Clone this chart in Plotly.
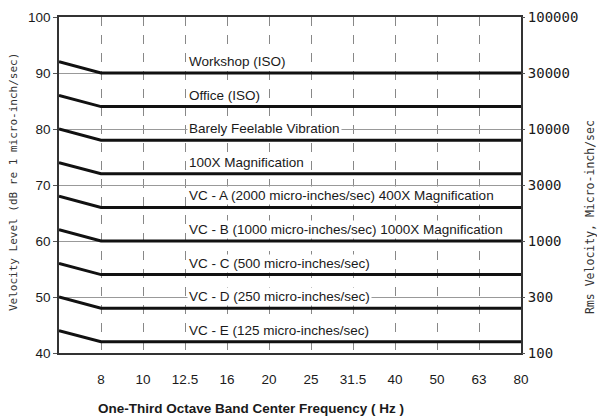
import plotly.graph_objects as go

# Data
freq_labels = ["6.3", "8", "10", "12.5", "16", "20", "25", "31.5", "40", "50", "63", "80"]
curve_names = [
    "Workshop (ISO)",
    "Office (ISO)",
    "Barely Feelable Vibration",
    "100X Magnification",
    "VC - A (2000 micro-inches/sec) 400X Magnification",
    "VC - B (1000 micro-inches/sec) 1000X Magnification",
    "VC - C (500 micro-inches/sec)",
    "VC - D (250 micro-inches/sec)",
    "VC - E (125 micro-inches/sec)",
]
level_low = [92, 86, 80, 74, 68, 62, 56, 50, 44]      # dB at 6.3 Hz
level_flat = [90, 84, 78, 72, 66, 60, 54, 48, 42]     # dB from 8 Hz to 80 Hz
curve_x = ["6.3", "8", "80"]
y_ticks = [40, 50, 60, 70, 80, 90, 100]
right_tick_text = ["100", "300", "1000", "3000", "10000", "30000", "100000"]
label_freq = "12.5"

SANS = "Liberation Sans Narrow, Arial Narrow, Liberation Sans, Arial, sans-serif"
MONO = "DejaVu Sans Mono, monospace"

fig = go.Figure()
label_idx = freq_labels.index(label_freq)
for name, lo, fl in zip(curve_names, level_low, level_flat):
    fig.add_trace(go.Scatter(
        x=curve_x, y=[lo, fl, fl], mode="lines", name=name,
        line=dict(color="#111111", width=3), showlegend=False, hoverinfo="skip",
    ))
    fig.add_annotation(
        x=label_idx, y=fl, xref="x", yref="y", text=name, showarrow=False,
        xanchor="left", yanchor="bottom", xshift=2, yshift=2,
        font=dict(family=SANS, size=13.5, color="#1a1a1a"),
        bgcolor="white", borderpad=1,
    )

# invisible marker so the right axis is drawn
fig.add_trace(go.Scatter(x=[freq_labels[0]], y=[y_ticks[0]], yaxis="y2", mode="markers",
                         marker=dict(opacity=0), showlegend=False, hoverinfo="skip"))

fig.update_layout(
    width=597, height=420,
    margin=dict(l=59, r=76, t=17, b=67),
    plot_bgcolor="white", paper_bgcolor="white",
    showlegend=False,
    xaxis=dict(
        type="category", categoryorder="array", categoryarray=freq_labels,
        range=[0, len(freq_labels) - 1], automargin=False,
        tickvals=freq_labels[1:], ticktext=freq_labels[1:],
        showgrid=True, gridcolor="#888888", gridwidth=1, griddash="dash",
        showline=True, linecolor="#333333", linewidth=1.5, mirror=True,
        ticks="", ticklabelstandoff=13,
        tickfont=dict(family=SANS, size=13.5, color="#1a1a1a"),
        zeroline=False,
    ),
    yaxis=dict(
        range=[40, 100], tickvals=y_ticks, automargin=False,
        showgrid=True, gridcolor="#999999", gridwidth=1,
        showline=True, linecolor="#333333", linewidth=1.5, mirror=True,
        ticks="outside", ticklen=4, tickcolor="#555555",
        tickfont=dict(family=SANS, size=13.5, color="#1a1a1a"),
        zeroline=False,
    ),
    yaxis2=dict(
        overlaying="y", side="right", range=[40, 100], automargin=False,
        tickvals=y_ticks, ticktext=right_tick_text,
        showgrid=False, ticks="outside", ticklen=3, tickcolor="#555555",
        tickfont=dict(family=MONO, size=14, color="#1a1a1a"),
        zeroline=False,
    ),
)

W, H, L, R, T, B = 597, 420, 59, 76, 17, 67
pw, ph = W - L - R, H - T - B

fig.add_annotation(
    text="<b>One-Third Octave Band Center Frequency ( Hz )</b>",
    x=(251 - L) / pw, y=-(408 - (H - B)) / ph,
    xref="paper", yref="paper", showarrow=False, xanchor="center", yanchor="middle",
    font=dict(family=SANS, size=13.5, color="#1a1a1a"),
)
fig.add_annotation(
    text="Velocity Level (dB re 1 micro-inch/sec)", textangle=-90,
    x=-(L - 13) / pw, y=1 - (182 - T) / ph,
    xref="paper", yref="paper", showarrow=False, xanchor="center", yanchor="middle",
    font=dict(family=MONO, size=11, color="#333333"),
)
fig.add_annotation(
    text="Rms Velocity, Micro-inch/sec", textangle=-90,
    x=(590 - L) / pw, y=1 - (217 - T) / ph,
    xref="paper", yref="paper", showarrow=False, xanchor="center", yanchor="middle",
    font=dict(family=MONO, size=11.5, color="#333333"),
)

fig.write_html("out.html")
